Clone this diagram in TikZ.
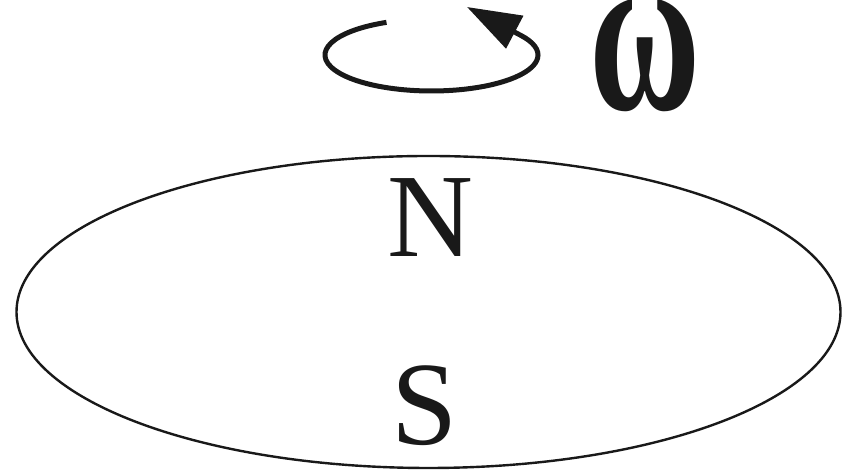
\documentclass[tikz,border=0pt]{standalone}
\usepackage{fontspec}
\setmainfont{Liberation Serif}
\newfontfamily\greekserif[FakeStretch=0.65]{Liberation Serif}
\usetikzlibrary{arrows.meta,shapes.geometric}

\begin{document}
\begin{tikzpicture}[
      x=0.5pt, y=-0.5pt,
      magnet/.style={ellipse, draw=black!90, line width=1.2pt, minimum width=412pt, minimum height=156pt, inner sep=0pt},
      pole/.style={inner sep=0pt, anchor=base, font=\fontsize{59.5}{60}\selectfont, text=black!90},
      spin/.style={-{Triangle[length=27pt, width=18pt]}, line width=2.5pt, black!90}
    ]
    \useasboundingbox (0,0) rectangle (848,474);
    \node[magnet] (disk) at (428.5,312) {};
    \node[pole] (north) at (430.5,257) {N};
    \node[pole] (south) at (424.5,445) {S};
    \node[pole, font=\greekserif\fontsize{117}{118}\selectfont\bfseries] (omega) at (645,110) {ω};

    \coordinate (axis) at (431.5,55);
    \coordinate (tip) at (467,7);
    \draw[spin] ([shift={(-115:106.5 and 36)}]axis) arc[start angle=-115, end angle=-393, x radius=106.5, y radius=36] -- (tip);
\end{tikzpicture}
\end{document}
